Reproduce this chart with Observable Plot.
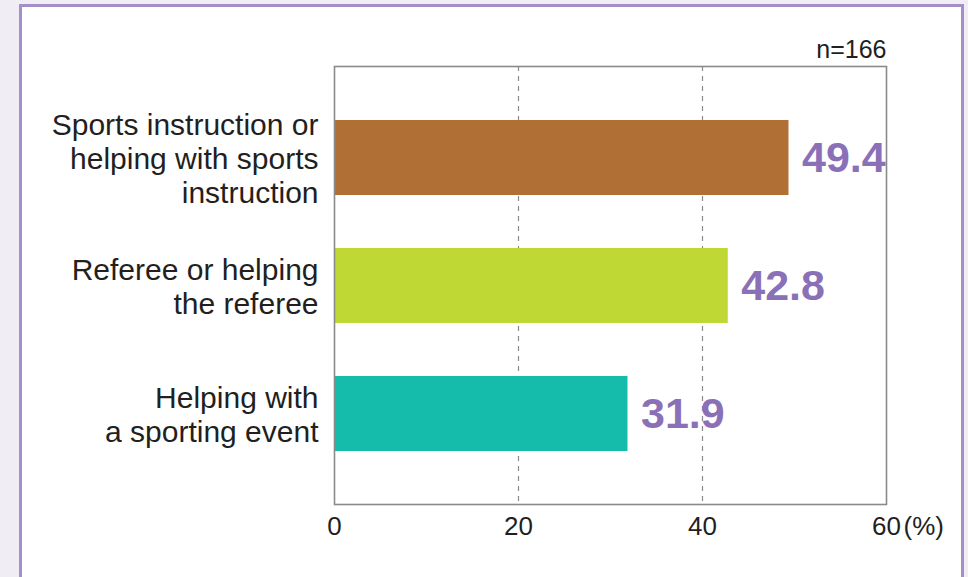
<!DOCTYPE html>
<html>
<head>
<meta charset="utf-8">
<script src="https://cdn.jsdelivr.net/npm/d3@7"></script>
<script src="https://cdn.jsdelivr.net/npm/@observablehq/plot@0.6"></script>
<style>
  html, body { margin: 0; padding: 0; }
  body { width: 968px; height: 577px; background: #f0edf4; position: relative; overflow: hidden; font-family: "Liberation Sans", Arial, sans-serif; }
  #panel { position: absolute; box-sizing: border-box; left: 19px; top: 4px; width: 945px; height: 700px; background: #ffffff; border: 3px solid #a48fcb; }
  #chart { position: absolute; left: 0; top: 0; }
</style>
</head>
<body>
<div id="panel"></div>
<div id="chart"></div>
<script>
const categories = [
  "Sports instruction or\nhelping with sports\ninstruction",
  "Referee or helping\nthe referee",
  "Helping with\na sporting event"
];
const values = [49.4, 42.8, 31.9];
const barColors = ["#b06f35", "#bfd833", "#16bcab"];
const xTicks = [0, 20, 40, 60];
const sampleNote = "n=166";
const unitNote = "(%)";

const data = categories.map((c, i) => ({category: c, value: values[i], color: barColors[i]}));

const chart = Plot.plot({
  width: 968,
  height: 577,
  marginLeft: 334,
  marginRight: 82,
  marginTop: 66,
  marginBottom: 73,
  style: {background: "transparent", fontFamily: "'Liberation Sans', Arial, sans-serif", color: "#231f20"},
  x: {domain: [0, 60], ticks: xTicks, axis: null},
  y: {domain: categories, padding: 0.415, axis: null},
  color: {type: "identity"},
  marks: [
    Plot.ruleX(xTicks.filter(t => t > 0 && t < 60), {stroke: "#8a8a8a", strokeWidth: 1.2, strokeDasharray: "5,5"}),
    Plot.barX(data, {x: "value", y: "category", fill: "color"}),
    Plot.frame({stroke: "#8a8a8a", strokeWidth: 1.6}),
    Plot.axisX({ticks: xTicks, tickSize: 0, tickPadding: 12, fontSize: 26, label: null, tickFormat: d => String(d), fill: "#231f20"}),
    Plot.text(data, {
      y: "category", text: "category", frameAnchor: "left", textAnchor: "end", dx: -16,
      fontSize: 30, lineHeight: 1.13, fill: "#231f20"
    }),
    Plot.text(data, {
      x: "value", y: "category", text: d => d.value.toFixed(1), textAnchor: "start", dx: 13,
      fontSize: 43, fontWeight: "bold", fill: "#8a70b7"
    }),
    Plot.text([sampleNote], {frameAnchor: "top-right", textAnchor: "end", lineAnchor: "bottom", dy: -9, fontSize: 25, fill: "#231f20"}),
    Plot.text([unitNote], {frameAnchor: "bottom-right", textAnchor: "start", lineAnchor: "top", dx: 17, dy: 12, fontSize: 26, fill: "#231f20"})
  ]
});
document.getElementById("chart").appendChild(chart);
</script>
</body>
</html>
